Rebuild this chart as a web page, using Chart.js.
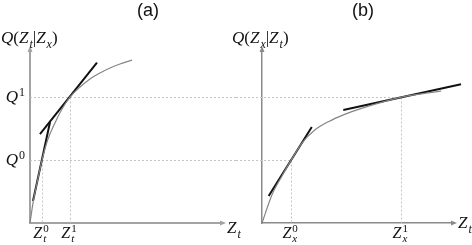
<!DOCTYPE html>
<html>
<head>
<meta charset="utf-8">
<script src="https://cdn.jsdelivr.net/npm/chart.js@4.4.1/dist/chart.umd.min.js"></script>
<style>
  html, body { margin: 0; padding: 0; background: #fff; }
  #wrap { position: relative; width: 472px; height: 245px; }
  canvas { position: absolute; top: 0; left: 0; }
</style>
</head>
<body>
<div id="wrap">
  <canvas id="chartA" width="472" height="245"></canvas>
  <canvas id="chartB" width="472" height="245"></canvas>
</div>
<script>
// panel (a): Q(Z_t|Z_x) against Z_t
var ztValues = [0, 0.25, 0.67, 1.0, 1.5, 2.08, 2.67, 3.33, 4.17, 5.0, 5.83, 6.67, 7.5, 8.5];
var qaValues = [0, 1.27, 2.86, 4.0, 5.34, 6.36, 7.25, 8.0, 8.65, 9.16, 9.54, 9.86, 10.11, 10.36];
var tangentA0X = [0.25, 1.67];
var tangentA0Y = [1.4, 6.42];
var tangentA1X = [0.83, 5.58];
var tangentA1Y = [5.65, 10.2];
var ztMarks = [1.0, 3.33];

// panel (b): Q(Z_x|Z_t) against Z_x
var zxValues = [0, 0.83, 1.67, 2.44, 3.33, 4.42, 5.56, 6.92, 8.33, 10.0, 11.67, 15.0];
var qbValues = [0, 1.78, 2.99, 4.0, 5.07, 5.91, 6.44, 6.91, 7.29, 7.67, 8.0, 8.39];
var tangentB0X = [0.56, 4.17];
var tangentB0Y = [1.72, 6.10];
var tangentB1X = [6.81, 16.67];
var tangentB1Y = [7.19, 8.82];
var zxMarks = [2.44, 11.67];

// shared levels Q^0, Q^1
var qMarks = [4.0, 8.0];
var markNames = ['0', '1'];

var axisMaxX = 16;
var axisMaxY = 11;
var panelSplit = 236; // where the dotted guides hand over from (a) to (b)
var mathFont = '"Liberation Serif", "DejaVu Serif", serif';


function toPoints(xs, ys) {
    return xs.map(function (x, i) { return { x: x, y: ys[i] }; });
}

// draw a run of math tokens: {t, sub, sup, up}
function drawMath(ctx, tokens, x, y, size, align) {
    var small = Math.round(size * 0.68);
    var parts = [];
    var total = 0;
    tokens.forEach(function (tk) {
        ctx.font = (tk.up ? '' : 'italic ') + size + 'px ' + mathFont;
        var bw = ctx.measureText(tk.t).width;
        ctx.font = 'italic ' + small + 'px ' + mathFont;
        var sw = 0;
        if (tk.sub) sw = Math.max(sw, ctx.measureText(tk.sub).width);
        if (tk.sup) sw = Math.max(sw, ctx.measureText(tk.sup).width);
        parts.push({ tk: tk, bw: bw, sw: sw });
        total += bw + (sw ? sw + 1 : 0);
    });
    var cx = x;
    if (align === 'right') cx = x - total;
    if (align === 'center') cx = x - total / 2;
    ctx.fillStyle = '#111';
    ctx.textBaseline = 'alphabetic';
    ctx.textAlign = 'left';
    parts.forEach(function (p) {
        ctx.font = (p.tk.up ? '' : 'italic ') + size + 'px ' + mathFont;
        ctx.fillText(p.tk.t, cx, y);
        cx += p.bw;
        if (p.sw) {
            if (p.tk.sup) {
                ctx.font = small + 'px ' + mathFont;
                ctx.fillText(p.tk.sup, cx + 1, y - size * 0.38);
            }
            if (p.tk.sub) {
                ctx.font = 'italic ' + small + 'px ' + mathFont;
                ctx.fillText(p.tk.sub, cx + 1, y + size * 0.28);
            }
            cx += p.sw + 1;
        }
    });
}

function makePanel(canvasId, cfg) {
    var decor = {
        id: 'decor',
        beforeDatasetsDraw: function (chart) {
            var ctx = chart.ctx;
            var xs = chart.scales.x, ys = chart.scales.y;
            var area = chart.chartArea;
            ctx.save();
            ctx.strokeStyle = '#c4c4c4';
            ctx.lineWidth = 1;
            ctx.setLineDash([2, 2]);
            cfg.xMarks.forEach(function (xv, i) {
                var px = Math.round(xs.getPixelForValue(xv)) + 0.5;
                var py = Math.round(ys.getPixelForValue(qMarks[i])) + 0.5;
                var from = cfg.guideFromSplit ? panelSplit : area.left;
                var to = cfg.guideToSplit ? panelSplit : px;
                ctx.beginPath();
                ctx.moveTo(from, py);
                ctx.lineTo(to, py);
                ctx.moveTo(px, py);
                ctx.lineTo(px, area.bottom);
                ctx.stroke();
            });
            ctx.restore();
        },
        afterDraw: function (chart) {
            var ctx = chart.ctx;
            var xs = chart.scales.x, ys = chart.scales.y;
            var area = chart.chartArea;
            ctx.save();
            // arrow heads
            ctx.fillStyle = cfg.axisColor;
            ctx.beginPath();
            ctx.moveTo(area.left, area.top - 4);
            ctx.lineTo(area.left - 2.5, area.top + 2);
            ctx.lineTo(area.left + 2.5, area.top + 2);
            ctx.closePath();
            ctx.fill();
            ctx.beginPath();
            ctx.moveTo(area.right + 4, area.bottom);
            ctx.lineTo(area.right - 2, area.bottom - 2.5);
            ctx.lineTo(area.right - 2, area.bottom + 2.5);
            ctx.closePath();
            ctx.fill();

            // panel letter
            ctx.fillStyle = '#111';
            ctx.font = '18px "Liberation Sans", Arial, sans-serif';
            ctx.textAlign = 'center';
            ctx.textBaseline = 'middle';
            ctx.fillText(cfg.letter, cfg.letterX, 11);

            // y axis title
            drawMath(ctx, cfg.yTitle, cfg.yTitleX, 43, 17, 'left');

            // x axis title
            drawMath(ctx, [{ t: 'Z', sub: 't' }], area.right + 5, cfg.xTitleY, 17, 'left');

            // tick labels
            cfg.xMarks.forEach(function (xv, i) {
                var px = xs.getPixelForValue(xv);
                drawMath(ctx, [{ t: cfg.xName, sub: cfg.xSub, sup: markNames[i] }], px - 1, 238, 16, 'center');
            });
            if (cfg.yLabels) {
                qMarks.forEach(function (qv, i) {
                    var py = ys.getPixelForValue(qv);
                    drawMath(ctx, [{ t: 'Q', sup: markNames[i] }], area.left - 5, py + 5, 17, 'right');
                });
            }
            ctx.restore();
        }
    };

    var line = function (pts, color, width, smooth) {
        return {
            data: pts,
            showLine: true,
            borderColor: color,
            borderWidth: width,
            pointRadius: 0,
            cubicInterpolationMode: smooth ? 'monotone' : 'default',
            tension: 0,
            clip: false
        };
    };

    return new Chart(document.getElementById(canvasId).getContext('2d'), {
        type: 'scatter',
        data: {
            datasets: [
                line(cfg.curve, '#858585', 1.2, true),
                line(cfg.tan0, '#111', 2, false),
                line(cfg.tan1, '#111', 2, false)
            ]
        },
        options: {
            responsive: false,
            animation: false,
            layout: { padding: cfg.padding },
            plugins: { legend: { display: false }, tooltip: { enabled: false } },
            scales: {
                x: {
                    type: 'linear', min: 0, max: axisMaxX,
                    grid: { display: false, drawTicks: false },
                    ticks: { display: false },
                    border: { display: true, color: cfg.axisColor, width: cfg.axisWidth }
                },
                y: {
                    type: 'linear', min: 0, max: axisMaxY,
                    grid: { display: false, drawTicks: false },
                    ticks: { display: false },
                    border: { display: true, color: cfg.axisColor, width: cfg.axisWidth }
                }
            }
        },
        plugins: [decor]
    });
}

makePanel('chartA', {
    curve: toPoints(ztValues, qaValues),
    tan0: toPoints(tangentA0X, tangentA0Y),
    tan1: toPoints(tangentA1X, tangentA1Y),
    xMarks: ztMarks,
    xName: 'Z', xSub: 't',
    yTitle: [{ t: 'Q' }, { t: '(', up: true }, { t: 'Z', sub: 't' }, { t: '|', up: true }, { t: 'Z', sub: 'x' }, { t: ')', up: true }],
    yTitleX: 1,
    yLabels: true,
    letter: '(a)', letterX: 148,
    xTitleY: 233,
    guideFromSplit: false, guideToSplit: true,
    axisColor: '#a3a3a3', axisWidth: 2,
    padding: { left: 30, right: 250, top: 50, bottom: 22 }
});

makePanel('chartB', {
    curve: toPoints(zxValues, qbValues),
    tan0: toPoints(tangentB0X, tangentB0Y),
    tan1: toPoints(tangentB1X, tangentB1Y),
    xMarks: zxMarks,
    xName: 'Z', xSub: 'x',
    yTitle: [{ t: 'Q' }, { t: '(', up: true }, { t: 'Z', sub: 'x' }, { t: '|', up: true }, { t: 'Z', sub: 't' }, { t: ')', up: true }],
    yTitleX: 232,
    yLabels: false,
    letter: '(b)', letterX: 363,
    xTitleY: 228,
    guideFromSplit: true, guideToSplit: false,
    axisColor: '#8a8a8a', axisWidth: 1.5,
    padding: { left: 262, right: 19, top: 50, bottom: 22 }
});
</script>
</body>
</html>
